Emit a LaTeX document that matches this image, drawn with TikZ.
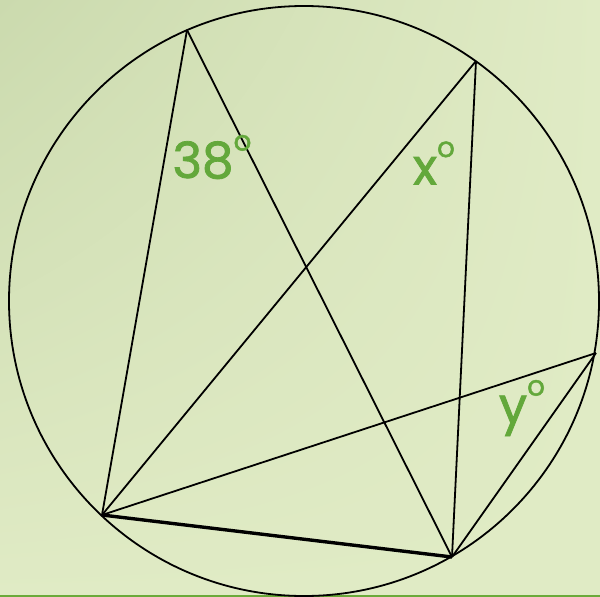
\documentclass[tikz,border=0pt]{standalone}
\usepackage{fontspec}
\newfontfamily\labelfont[FakeBold=1.6]{Poppins}
\usetikzlibrary{calc,shadings}
\definecolor{bgdark}{HTML}{CBDAAE}
\definecolor{bglight}{HTML}{E0EBC5}
\definecolor{anglegreen}{HTML}{63A83B}
\definecolor{rulegreen}{HTML}{6AAA3A}
\newcommand{\degmark}{\raisebox{0.55em}{\fontsize{28}{28}\selectfont o}}
\begin{document}
\begin{tikzpicture}[
    x=1pt, y=-1pt,
    chord/.style={line width=1.8pt},
    base/.style={line width=3.4pt},
    angle/.style={font=\labelfont\fontsize{50}{50}\selectfont, text=anglegreen, inner sep=0pt},
]
\useasboundingbox (0,0) rectangle (600,597);
\shade[upper left=bgdark, upper right=bglight, lower left=bglight, lower right=bglight] (0,0) rectangle (600,597);
\draw[line width=2.5pt, rulegreen] (0,596) -- (600,596);

\coordinate (O) at (304,301);
\draw[chord] (O) circle [radius=295];

% points on the circle
\coordinate (A) at ($(O)+(-117,-271)$);
\coordinate (B) at ($(O)+(172,-240)$);
\coordinate (C) at ($(O)+(292,52)$);
\coordinate (D) at ($(O)+(-202,214)$);
\coordinate (E) at ($(O)+(148,256)$);

\draw[chord] (A) -- (D);
\draw[chord] (A) -- (E);
\draw[chord] (B) -- (D);
\draw[chord] (B) -- (E);
\draw[chord] (C) -- (D);
\draw[chord] (C) -- (E);
\draw[base] (D) -- (E);

\node[angle] (a38) at (212,157) {38\degmark};
\node[angle] (ax) at (434,163) {x\degmark};
\node[angle] (ay) at (522,408) {y\degmark};
\end{tikzpicture}
\end{document}
